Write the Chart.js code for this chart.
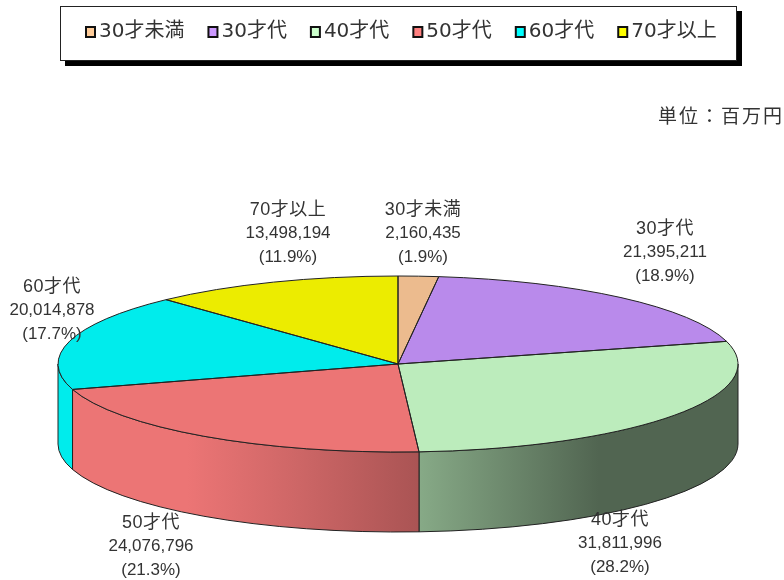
<!DOCTYPE html>
<html><head><meta charset="utf-8">
<script src="https://cdn.jsdelivr.net/npm/chart.js@4"></script>
<style>html,body{margin:0;padding:0;background:#fff}canvas{display:block}</style>
</head><body><canvas id="c" width="784" height="580"></canvas>
<script>
const categories = ['30才未満','30才代','40才代','50才代','60才代','70才以上'];
const values = [2160435,21395211,31811996,24076796,20014878,13498194];
const percents = ['1.9%','18.9%','28.2%','21.3%','17.7%','11.9%'];
const sliceColors = ['#ecbb8e','#b98aeb','#bcecbc','#ec7575','#00ecec','#ecec00'];
const legendColors = ['#ffcc99','#cc99ff','#ccffcc','#ff8080','#00ffff','#ffff00'];
const unitLabel = '単位：百万円';

// layout
const PIE = {cx:398, cy:364, rx:340, ry:88, depth:80};
const labelCentres = [[423,210],[665,229],[620,520],[151,523],[52,287],[288,210]];
const shade = [[0,1],[0.19,1],[0.355,0.87],[0.53,0.72],[0.795,0.43],[1,0.43]];

function rgb(hex){const n=parseInt(hex.slice(1),16);return [n>>16,(n>>8)&255,n&255];}
function wallGradient(ctx,hex){
  const g=ctx.createLinearGradient(PIE.cx-PIE.rx,0,PIE.cx+PIE.rx,0);
  const c=rgb(hex);
  shade.forEach(([p,f])=>g.addColorStop(p,`rgb(${c.map(v=>Math.round(v*f)).join(',')})`));
  return g;
}
const pie3d = {
  id:'pie3d',
  beforeDraw(chart){
    const ctx=chart.ctx;
    ctx.save();
    ctx.fillStyle='#000'; ctx.fillRect(65,11,677,55);
    ctx.fillStyle='#fff'; ctx.strokeStyle='#222'; ctx.lineWidth=1;
    ctx.fillRect(60.5,6.5,676,54); ctx.strokeRect(60.5,6.5,676,54);
    ctx.font='20px "DejaVu Sans","Noto Sans CJK JP"';
    ctx.textBaseline='middle';
    let x=85;
    categories.forEach((name,i)=>{
      ctx.fillStyle=legendColors[i]; ctx.strokeStyle='#111'; ctx.lineWidth=2;
      ctx.fillRect(x+1,27,9,10); ctx.strokeRect(x+1,27,9,10);
      ctx.fillStyle='#333'; ctx.textAlign='left';
      ctx.fillText(name,x+14,32);
      x+=14+ctx.measureText(name).width+23;
    });
    ctx.font='19px "Noto Sans CJK JP"'; ctx.letterSpacing='2px';
    ctx.textAlign='right'; ctx.fillStyle='#333';
    ctx.fillText(unitLabel,784,116);
    ctx.letterSpacing='0px';
    ctx.restore();
  },
  beforeDatasetDraw(chart,args){
    const ctx=chart.ctx, arcs=chart.getDatasetMeta(args.index).data;
    ctx.save();
    arcs.forEach((a,i)=>{
      const s=Math.max(a.startAngle,0), e=Math.min(a.endAngle,Math.PI);
      if(s>=e) return;
      ctx.beginPath();
      ctx.ellipse(PIE.cx,PIE.cy,PIE.rx,PIE.ry,0,s,e);
      ctx.ellipse(PIE.cx,PIE.cy+PIE.depth,PIE.rx,PIE.ry,0,e,s,true);
      ctx.closePath();
      ctx.fillStyle=wallGradient(ctx,sliceColors[i]);
      ctx.fill();
      ctx.strokeStyle='#222'; ctx.lineWidth=1; ctx.stroke();
    });
    ctx.restore();
    const a0=arcs[0];
    ctx.save();
    ctx.translate(PIE.cx,PIE.cy);
    ctx.scale(PIE.rx/a0.outerRadius,PIE.ry/a0.outerRadius);
    ctx.translate(-a0.x,-a0.y);
  },
  afterDatasetDraw(chart,args){
    const ctx=chart.ctx, arcs=chart.getDatasetMeta(args.index).data;
    ctx.restore();
    ctx.save();
    ctx.strokeStyle='#222'; ctx.lineWidth=1; ctx.lineJoin='round';
    arcs.forEach(a=>{
      ctx.beginPath();
      ctx.moveTo(PIE.cx,PIE.cy);
      ctx.ellipse(PIE.cx,PIE.cy,PIE.rx,PIE.ry,0,a.startAngle,a.endAngle);
      ctx.closePath();
      ctx.stroke();
    });
    ctx.restore();
  },
  afterDraw(chart){
    const ctx=chart.ctx;
    ctx.save();
    ctx.fillStyle='#333'; ctx.textAlign='center'; ctx.textBaseline='middle';
    categories.forEach((name,i)=>{
      const [x,y]=labelCentres[i];
      ctx.font='18px "Liberation Sans","Noto Sans CJK JP"'; ctx.letterSpacing='0.5px';
      ctx.fillText(name,x,y);
      ctx.letterSpacing='0px';
      ctx.font='17px "Liberation Sans","Noto Sans CJK JP"';
      ctx.fillText(values[i].toLocaleString('en-US'),x,y+23);
      ctx.fillText('('+percents[i]+')',x,y+47);
    });
    ctx.restore();
  }
};
new Chart(document.getElementById('c'),{
  type:'pie',
  data:{labels:categories,datasets:[{data:values,backgroundColor:sliceColors,borderWidth:0,clip:false}]},
  options:{responsive:false,animation:false,
    layout:{padding:0},
    plugins:{legend:{display:false},tooltip:{enabled:false},title:{display:false}}},
  plugins:[pie3d]
});
</script></body></html>
